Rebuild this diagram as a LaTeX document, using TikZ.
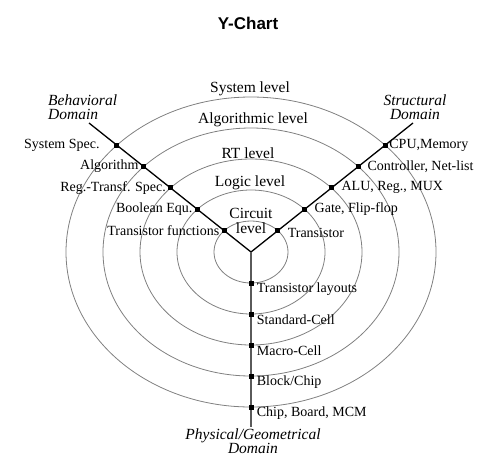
\documentclass[tikz,border=0pt]{standalone}
\usepackage{fontspec}
\setmainfont{Liberation Serif}
\newfontfamily\headfont{Liberation Sans}
\usepackage{tikz}
\usetikzlibrary{positioning}
\definecolor{ringgray}{HTML}{808080}
\definecolor{stemgray}{HTML}{5A5A5A}

\begin{document}
\begin{tikzpicture}[x=1pt,y=1pt,
      every node/.style={font=\fontsize{14}{15}\selectfont,inner sep=0pt},
      ringline/.style={draw=ringgray,line width=0.8pt},
      yarm/.style={line width=1.3pt,black},
      stemline/.style={line width=1.3pt,stemgray},
      joint/.style={fill=black,minimum size=5pt,inner sep=0pt},
      levelname/.style={font=\fontsize{15.5}{15}\selectfont},
      domainname/.style={font=\fontsize{15.5}{14}\selectfont\itshape,align=center}]
      \useasboundingbox (0,0) rectangle (500,-469);
      \node[font=\headfont\bfseries\fontsize{17}{17}\selectfont] (title) at (248,-23) {Y-Chart};
      \coordinate (C) at (251,-252);
      % the five levels
      \foreach \k in {1,...,5}
        \draw[ringline] (C) ellipse [x radius=37*\k, y radius=31*\k];
      % the three domain axes
      \coordinate (bend) at (89,-123);
      \coordinate (send) at (413,-123);
      \coordinate (pend) at (251,-427);
      \draw[yarm] (C)--(bend); \draw[yarm] (C)--(send);
      \draw[stemline] (C)--(pend);
      \foreach \k in {1,...,5} {
        \node[joint] (b\k) at (251-26.9*\k,-252+21.4*\k) {};
        \node[joint] (s\k) at (251+26.9*\k,-252+21.4*\k) {};
        \node[joint] (p\k) at (251,-252-31*\k) {};
      }
      % behavioral side
      \node[left=2pt of b1] (tfun) {Transistor functions};
      \node[left=2pt of b2] (bool) {Boolean Equ.};
      \node[left=1.5pt of b3] (rtspec) {Reg.-Transf. Spec.};
      \node[left=2pt of b4] (algo) {Algorithm};
      \node[left=14pt of b5] (sysspec) {System Spec.};
      % structural side
      \node[right=7pt of s1,yshift=-2pt] (trans) {Transistor};
      \node[right=7pt of s2] (gate) {Gate, Flip-flop};
      \node[right=7pt of s3] (alu) {ALU, Reg., MUX};
      \node[right=6pt of s4] (ctrl) {Controller, Net-list};
      \node[right=1pt of s5] (cpu) {CPU,Memory};
      % physical side
      \node[right=3pt of p1,yshift=-6pt] (tlay) {Transistor layouts};
      \node[right=3pt of p2,yshift=-6pt] (stdcell) {Standard-Cell};
      \node[right=3pt of p3,yshift=-6pt] (mcell) {Macro-Cell};
      \node[right=3pt of p4,yshift=-6pt] (block) {Block/Chip};
      \node[right=3pt of p5,yshift=-6pt] (board) {Chip, Board, MCM};
      % level names
      \node[levelname] (lsys) at (250,-89) {System level};
      \node[levelname] (lalg) at (253,-120) {Algorithmic level};
      \node[levelname] (lrt) at (248,-153) {RT level};
      \node[levelname] (llog) at (250,-183) {Logic level};
      \node[levelname,align=center] (lcir) at (251,-221) {Circuit\\level};
      % domain names
      \node[domainname,align=left,anchor=west] (behav) at (48,-107) {Behavioral\\Domain};
      \node[domainname] (struct) at (415,-107) {Structural\\Domain};
      \node[domainname] (phys) at (253,-441) {Physical/Geometrical\\Domain};
    \end{tikzpicture}
\end{document}
